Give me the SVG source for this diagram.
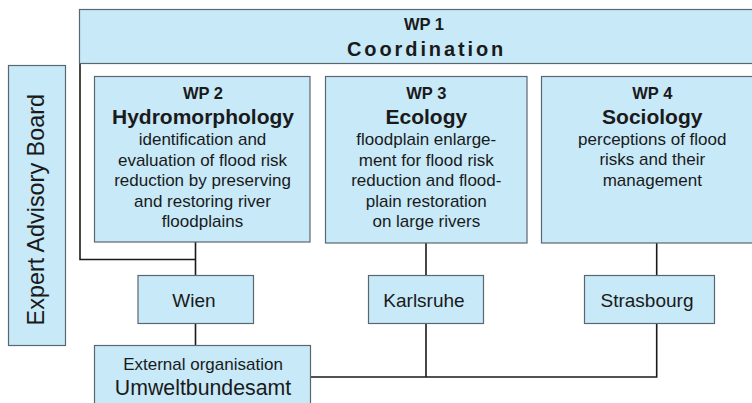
<svg xmlns="http://www.w3.org/2000/svg" width="752" height="403" viewBox="0 0 752 403">
<style>
.box{fill:#c7e9f8;stroke:#5b6770;stroke-width:1.2}
.conn{fill:none;stroke:#1a1a1a;stroke-width:1.6}
text{font-family:"Liberation Sans",Arial,sans-serif;fill:#1a1a1a;text-anchor:middle}
.wp{font-size:16.5px;font-weight:bold}
.title{font-size:21px;font-weight:bold}
.body{font-size:17px}
.city{font-size:19px}
</style>
<rect width="752" height="403" fill="#ffffff"/>
<g id="connectors">
<polyline class="conn" points="80,63.5 80,259.5 195.5,259.5"/>
<line class="conn" x1="195.5" y1="242" x2="195.5" y2="275"/>
<line class="conn" x1="195.5" y1="323.5" x2="195.5" y2="345"/>
<line class="conn" x1="426" y1="243" x2="426" y2="275"/>
<line class="conn" x1="656.7" y1="243" x2="656.7" y2="275"/>
<polyline class="conn" points="310.5,377 656.7,377 656.7,323.5"/>
<line class="conn" x1="426" y1="323.5" x2="426" y2="377"/>
</g>
<g id="wp1">
<rect class="box" x="79.5" y="9.5" width="690" height="54"/>
<text class="wp" x="424" y="30">WP 1</text>
<text x="347" y="56" style="text-anchor:start;font-size:20px;font-weight:bold;letter-spacing:2.9px">Coordination</text>
</g>
<g id="advisory">
<rect class="box" x="8.5" y="65.5" width="57" height="280"/>
<text x="0" y="0" transform="translate(43.5,209.7) rotate(-90)" style="font-size:23.4px">Expert Advisory Board</text>
</g>
<g id="wp2">
<rect class="box" x="94.5" y="76.5" width="215.5" height="165.5"/>
<text class="wp" x="203" y="99">WP 2</text>
<text class="title" x="203" y="124">Hydromorphology</text>
<text class="body" x="202.5" y="145">identification and</text>
<text class="body" x="202.5" y="165.5">evaluation of flood risk</text>
<text class="body" x="202.5" y="186">reduction by preserving</text>
<text class="body" x="202.5" y="206.5">and restoring river</text>
<text class="body" x="202.5" y="227">floodplains</text>
</g>
<g id="wp3">
<rect class="box" x="325.5" y="76.5" width="201.5" height="166.5"/>
<text class="wp" x="426.3" y="99">WP 3</text>
<text class="title" x="426.3" y="124">Ecology</text>
<text class="body" x="426.3" y="145">floodplain enlarge-</text>
<text class="body" x="426.3" y="165.5">ment for flood risk</text>
<text class="body" x="426.3" y="186">reduction and flood-</text>
<text class="body" x="426.3" y="206.5">plain restoration</text>
<text class="body" x="426.3" y="227">on large rivers</text>
</g>
<g id="wp4">
<rect class="box" x="541.5" y="76.5" width="230" height="166.5"/>
<text class="wp" x="652.3" y="99">WP 4</text>
<text class="title" x="652.3" y="124">Sociology</text>
<text class="body" x="652.3" y="144.5">perceptions of flood</text>
<text class="body" x="652.3" y="165">risks and their</text>
<text class="body" x="652.3" y="185.5">management</text>
</g>
<g id="wien">
<rect class="box" x="138" y="275.5" width="115.5" height="48"/>
<text class="city" x="194" y="306.7">Wien</text>
</g>
<g id="karlsruhe">
<rect class="box" x="368.5" y="275.5" width="115" height="48"/>
<text class="city" x="424" y="306.7">Karlsruhe</text>
</g>
<g id="strasbourg">
<rect class="box" x="584.5" y="275.5" width="130" height="48"/>
<text class="city" x="647" y="306.7">Strasbourg</text>
</g>
<g id="umwelt">
<rect class="box" x="94.5" y="345.5" width="216" height="70"/>
<text class="body" x="203" y="370">External organisation</text>
<text x="203" y="395" style="font-size:21.3px">Umweltbundesamt</text>
</g>
</svg>
